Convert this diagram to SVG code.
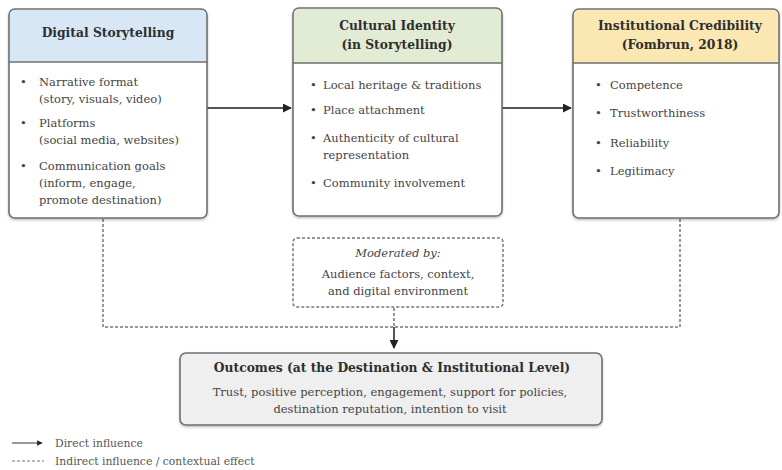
<svg xmlns="http://www.w3.org/2000/svg" width="782" height="470" viewBox="0 0 782 470">
<defs>
<marker id="ah" viewBox="0 0 10 10" refX="9" refY="5" markerWidth="4.5" markerHeight="4.5" orient="auto"><path d="M0,0 L10,5 L0,10 z" fill="#222"/></marker>
<filter id="sh" x="-5%" y="-5%" width="110%" height="115%"><feDropShadow dx="0" dy="1.5" stdDeviation="1.2" flood-color="#000" flood-opacity="0.25"/></filter>
</defs>
<style>
text{font-family:"DejaVu Serif","Liberation Serif",serif;fill:#333}
.box{fill:#fff;stroke:#6f6f6f;stroke-width:1.6}
.hd{font-weight:bold;font-size:12.3px;text-anchor:middle;fill:#2e2e2e}
.it{font-size:11.5px;fill:#444}
.sep{stroke:#6f6f6f;stroke-width:1.4}
.solid{stroke:#555;stroke-width:2;fill:none}
.dash{stroke:#777;stroke-width:1.5;stroke-dasharray:3 2;fill:none}
.c{text-anchor:middle}
.lg{font-size:10.8px;fill:#555}
</style>
<rect width="782" height="470" fill="#fff"/>
<g id="connectors">
<line class="solid" x1="207" y1="108" x2="291" y2="108" marker-end="url(#ah)"/>
<line class="solid" x1="502" y1="108" x2="571" y2="108" marker-end="url(#ah)"/>
<polyline class="dash" points="103,219 103,327 680,327 680,219"/>
<line class="dash" x1="394" y1="308" x2="394" y2="327"/>
<line class="solid" x1="394" y1="327" x2="394" y2="348" stroke-width="1.5" marker-end="url(#ah)"/>
</g>
<g id="digital-storytelling">
<rect class="box" x="9" y="9" width="198" height="209" rx="6" filter="url(#sh)"/>
<path d="M10,62 V15 a5,5 0 0 1 5,-5 H201 a5,5 0 0 1 5,5 V62 z" fill="#d7e7f6"/>
<line class="sep" x1="9" y1="62" x2="207" y2="62"/>
<text class="hd" x="108" y="37">Digital Storytelling</text>
<text x="20" y="86" class="it">•</text><text x="39" y="86" class="it">Narrative format</text>
<text x="39" y="103" class="it">(story, visuals, video)</text>
<text x="20" y="127" class="it">•</text><text x="39" y="127" class="it">Platforms</text>
<text x="39" y="144" class="it">(social media, websites)</text>
<text x="20" y="170" class="it">•</text><text x="39" y="170" class="it">Communication goals</text>
<text x="39" y="187" class="it">(inform, engage,</text>
<text x="39" y="204" class="it">promote destination)</text>
</g>
<g id="cultural-identity">
<rect class="box" x="293" y="8" width="209" height="208" rx="6" filter="url(#sh)"/>
<path d="M294,63 V14 a5,5 0 0 1 5,-5 H496 a5,5 0 0 1 5,5 V63 z" fill="#e2ecd4"/>
<line class="sep" x1="293" y1="63" x2="502" y2="63"/>
<text class="hd" x="397" y="30">Cultural Identity</text>
<text class="hd" x="397" y="49">(in Storytelling)</text>
<text x="310" y="89" class="it">•</text><text x="323" y="89" class="it">Local heritage &amp; traditions</text>
<text x="310" y="114" class="it">•</text><text x="323" y="114" class="it">Place attachment</text>
<text x="310" y="142" class="it">•</text><text x="323" y="142" class="it">Authenticity of cultural</text>
<text x="323" y="159" class="it">representation</text>
<text x="310" y="187" class="it">•</text><text x="323" y="187" class="it">Community involvement</text>
</g>
<g id="institutional-credibility">
<rect class="box" x="573" y="9" width="206" height="209" rx="6" filter="url(#sh)"/>
<path d="M574,63 V15 a5,5 0 0 1 5,-5 H773 a5,5 0 0 1 5,5 V63 z" fill="#fbe7b2"/>
<line class="sep" x1="573" y1="63" x2="779" y2="63"/>
<text class="hd" x="680" y="30">Institutional Credibility</text>
<text class="hd" x="680" y="49">(Fombrun, 2018)</text>
<text x="595" y="89" class="it">•</text><text x="610" y="89" class="it">Competence</text>
<text x="595" y="117" class="it">•</text><text x="610" y="117" class="it">Trustworthiness</text>
<text x="595" y="147" class="it">•</text><text x="610" y="147" class="it">Reliability</text>
<text x="595" y="175" class="it">•</text><text x="610" y="175" class="it">Legitimacy</text>
</g>
<g id="moderator">
<rect x="293" y="238" width="210" height="69" rx="4" fill="#fff" stroke="#777" stroke-width="1.5" stroke-dasharray="3 2"/>
<text class="it c" x="398" y="257" font-style="italic">Moderated by:</text>
<text class="it c" x="398" y="278">Audience factors, context,</text>
<text class="it c" x="398" y="295">and digital environment</text>
</g>
<g id="outcomes">
<rect x="180" y="353" width="422" height="72" rx="6" fill="#efefef" stroke="#6f6f6f" stroke-width="1.6" filter="url(#sh)"/>
<text class="hd" x="392" y="372">Outcomes (at the Destination &amp; Institutional Level)</text>
<text class="it c" x="390" y="396">Trust, positive perception, engagement, support for policies,</text>
<text class="it c" x="390" y="413">destination reputation, intention to visit</text>
</g>
<g id="legend">
<line x1="12" y1="443" x2="42" y2="443" stroke="#555" stroke-width="1.2" marker-end="url(#ah)"/>
<text class="lg" x="55" y="447">Direct influence</text>
<line x1="12" y1="461" x2="44" y2="461" stroke="#777" stroke-width="1.2" stroke-dasharray="3 2"/>
<text class="lg" x="55" y="465">Indirect influence / contextual effect</text>
</g>
</svg>
